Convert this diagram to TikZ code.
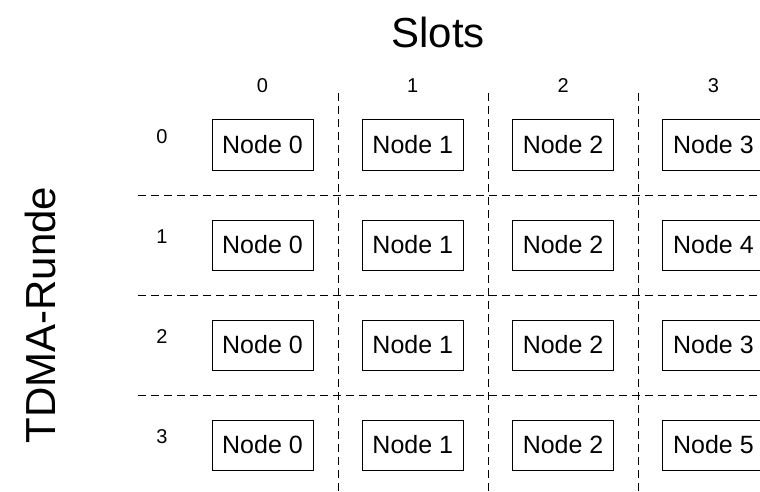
\documentclass[tikz,border=0pt]{standalone}
\usepackage{fontspec}
\setmainfont{Liberation Sans}
\tikzset{
  slotbox/.style={draw, line width=1pt, minimum width=101pt, minimum height=50pt, inner sep=0pt, font=\fontsize{25}{30}\selectfont},
  idx/.style={inner sep=0pt, font=\fontsize{20}{24}\selectfont},
  sep/.style={line width=1pt, dash pattern=on 8pt off 5pt},
}
\begin{document}
\begin{tikzpicture}[x=1pt,y=-1pt]
\useasboundingbox (0,0) rectangle (760,492);
\clip (0,0) rectangle (760,492);
\node[inner sep=0pt, font=\fontsize{42}{50}\selectfont] (slots) at (438,32){Slots};
\node[inner sep=0pt, rotate=90, font=\fontsize{42}{50}\selectfont] (runde) at (40,315){TDMA-Runde};
\node[idx] (c0) at (262.5,86){0};
\node[idx] (c1) at (412.8,86){1};
\node[idx] (c2) at (563.1,86){2};
\node[idx] (c3) at (713.4,86){3};
\node[idx] (r0) at (162,137){0};
\node[idx] (r1) at (162,237){1};
\node[idx] (r2) at (162,337){2};
\node[idx] (r3) at (162,437){3};
\draw[sep] (338,93) -- (338,492);
\draw[sep] (488,93) -- (488,492);
\draw[sep] (638,93) -- (638,492);
\draw[sep] (138,195) -- (760,195);
\draw[sep] (138,295) -- (760,295);
\draw[sep] (138,395) -- (760,395);
\node[slotbox] (n00) at (262.5,145){Node 0};
\node[slotbox] (n01) at (412.8,145){Node 1};
\node[slotbox] (n02) at (563.1,145){Node 2};
\node[slotbox] (n03) at (713.4,145){Node 3};
\node[slotbox] (n10) at (262.5,245){Node 0};
\node[slotbox] (n11) at (412.8,245){Node 1};
\node[slotbox] (n12) at (563.1,245){Node 2};
\node[slotbox] (n13) at (713.4,245){Node 4};
\node[slotbox] (n20) at (262.5,345){Node 0};
\node[slotbox] (n21) at (412.8,345){Node 1};
\node[slotbox] (n22) at (563.1,345){Node 2};
\node[slotbox] (n23) at (713.4,345){Node 3};
\node[slotbox] (n30) at (262.5,445){Node 0};
\node[slotbox] (n31) at (412.8,445){Node 1};
\node[slotbox] (n32) at (563.1,445){Node 2};
\node[slotbox] (n33) at (713.4,445){Node 5};
\end{tikzpicture}
\end{document}
